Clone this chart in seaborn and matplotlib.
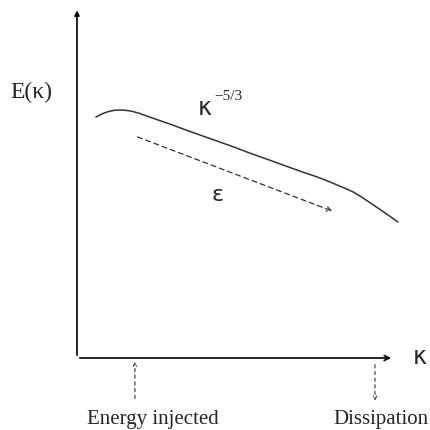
import matplotlib
matplotlib.use("Agg")
import matplotlib.pyplot as plt
import seaborn as sns
import pandas as pd

sns.set_theme(style="white")
plt.rcParams['font.family'] = ['Liberation Serif', 'DejaVu Serif']

# Spectrum curve (arbitrary units)
k_vals = [0.59, 0.78, 0.97, 1.16, 1.34, 1.53, 1.72, 1.97, 2.19, 2.5, 2.91, 3.31, 3.84,
          4.38, 4.94, 5.41, 6.03, 6.44, 6.97, 7.5, 7.91, 8.31, 8.63, 8.94, 9.22, 9.56, 10.03]
E_vals = [7.53, 7.63, 7.70, 7.74, 7.75, 7.74, 7.71, 7.64, 7.56, 7.45, 7.31, 7.16, 6.97,
          6.78, 6.58, 6.40, 6.18, 6.03, 5.84, 5.66, 5.50, 5.33, 5.19, 5.0, 4.81, 4.58, 4.25]
# energy cascade arrow (start, end)
cascade_k = [1.81, 8.06]
cascade_E = [6.94, 4.56]
# marker positions on k axis
marker_k = [1.81, 9.31]
marker_labels = ["Energy injected", "Dissipation"]

df = pd.DataFrame({"k": k_vals, "E": E_vals})

fig = plt.figure(figsize=(4.30, 4.31), dpi=100)
ax = fig.add_axes([0, 0, 1, 1])
sns.lineplot(data=df, x="k", y="E", ax=ax, color="#333333", linewidth=1.1)
ax.set_xlim(-2.406, 11.03)
ax.set_ylim(-2.25, 11.22)
ax.axis("off")

# axes with arrows
ax.annotate("", xy=(9.9, 0), xytext=(0, 0),
            arrowprops=dict(arrowstyle="->", color="black", lw=1.2, mutation_scale=9))
ax.annotate("", xy=(0, 10.95), xytext=(0, 0),
            arrowprops=dict(arrowstyle="-|>", color="black", lw=1.2, mutation_scale=7))

# cascade arrow
ax.annotate("", xy=(cascade_k[1], cascade_E[1]), xytext=(cascade_k[0], cascade_E[0]),
            arrowprops=dict(arrowstyle="->", color="#333333", lw=0.9, linestyle=(0, (4, 3)),
                            mutation_scale=8))

# markers on k axis
ax.annotate("", xy=(marker_k[0], -0.03), xytext=(marker_k[0], -1.35),
            arrowprops=dict(arrowstyle="->", color="#333333", lw=0.8, linestyle=(0, (3, 3)),
                            mutation_scale=6))
ax.annotate("", xy=(marker_k[1], -1.42), xytext=(marker_k[1], -0.12),
            arrowprops=dict(arrowstyle="->", color="#333333", lw=0.8, linestyle=(0, (3, 3)),
                            mutation_scale=6))
ax.text(0.31, -2.03, marker_labels[0], ha="left", va="baseline", fontsize=15)
ax.text(8.0, -2.03, marker_labels[1], ha="left", va="baseline", fontsize=15)

# labels
ax.text(-2.09, 8.16, "E(κ)", ha="left", va="baseline", fontsize=17)
ax.text(10.72, 0.06, "κ", ha="center", va="center", fontsize=17, family=["DejaVu Sans"])
ax.text(4.0, 7.84, "κ", ha="center", va="center", fontsize=17, family=["DejaVu Sans"])
ax.text(4.72, 8.19, "−5/3", ha="center", va="center", fontsize=11)
ax.text(4.38, 5.12, "ε", ha="center", va="center", fontsize=16, family=["DejaVu Sans"])

fig.savefig("out.png", dpi=100)
